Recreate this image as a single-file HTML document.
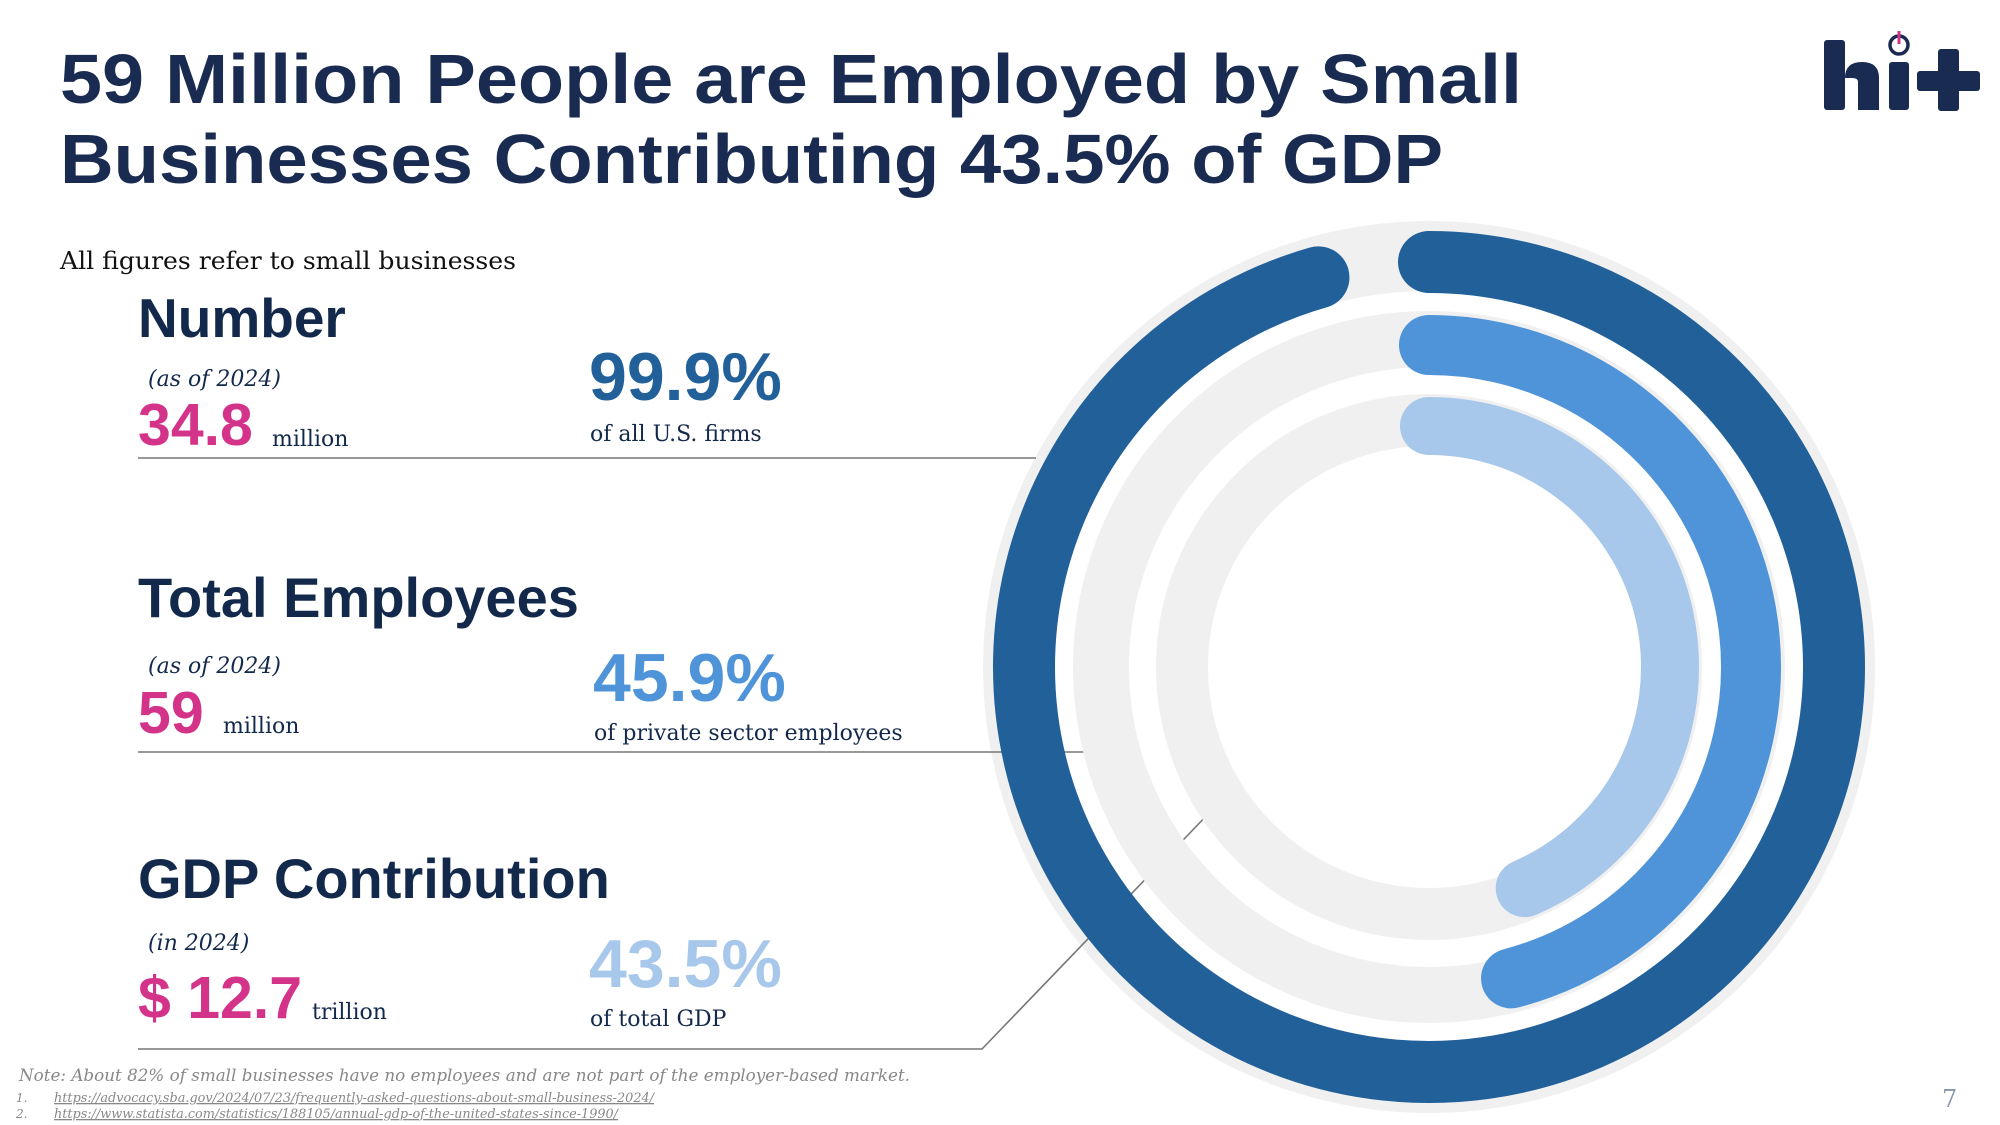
<!DOCTYPE html>
<html><head><meta charset="utf-8"><style>
html,body{margin:0;padding:0;background:#fff;}
svg{display:block;}
.h{font-family:"Liberation Sans",sans-serif;font-weight:bold;}
.s{font-family:"DejaVu Serif","Liberation Serif",serif;}
</style></head><body>
<svg id="page" width="2000" height="1125" viewBox="0 0 2000 1125" xmlns="http://www.w3.org/2000/svg">
<g class="h" fill="#1a2b52" font-size="70">
<text x="60" y="103" textLength="1462" lengthAdjust="spacingAndGlyphs">59 Million People are Employed by Small</text>
<text x="60" y="183" textLength="1383" lengthAdjust="spacingAndGlyphs">Businesses Contributing 43.5% of GDP</text>
</g>
<g transform="translate(-10,0)">
<rect x="1834" y="40" width="21" height="70" rx="3" fill="#1a2b52"/>
<path d="M1855 110 V78 Q1855 62 1872 62 Q1889 62 1889 78 V110 H1868 V82 Q1868 78 1862 78 H1855 Z" fill="#1a2b52"/>
<rect x="1899" y="62" width="20" height="48" rx="3" fill="#1a2b52"/>
<circle cx="1909" cy="45" r="9" fill="none" stroke="#1a2b52" stroke-width="3.5"/>
<rect x="1907.5" y="31" width="3" height="13" fill="#d4338a"/>
<rect x="1927" y="71" width="63" height="20" rx="3" fill="#1a2b52"/>
<rect x="1948" y="49" width="21" height="62" rx="3" fill="#1a2b52"/>
</g>
<text class="s" x="60" y="269" font-size="24" fill="#111" textLength="456" lengthAdjust="spacingAndGlyphs">All figures refer to small businesses</text>

<g id="connectors" stroke="#777" stroke-width="1.6" fill="none">
<line x1="138" y1="458" x2="1036" y2="458"/>
<line x1="138" y1="752" x2="1092" y2="752"/>
<polyline points="138,1049 982,1049 1211,811"/>
</g>
<g id="rings"></g>

<g>
<text class="h" x="138" y="337" font-size="55" fill="#13294b">Number</text>
<text class="s" x="148" y="386" font-size="22" font-style="italic" fill="#13294b">(as of 2024)</text>
<text class="h" x="138" y="445" font-size="59" fill="#d4338a">34.8</text>
<text class="s" x="272" y="446" font-size="22" fill="#13294b">million</text>
<text class="h" x="589" y="400" font-size="68" fill="#22609a">99.9%</text>
<text class="s" x="590" y="441" font-size="22" fill="#13294b">of all U.S. firms</text>
</g>
<g>
<text class="h" x="138" y="617" font-size="56" fill="#13294b">Total Employees</text>
<text class="s" x="148" y="673" font-size="22" font-style="italic" fill="#13294b">(as of 2024)</text>
<text class="h" x="138" y="733" font-size="59" fill="#d4338a">59</text>
<text class="s" x="223" y="733" font-size="22" fill="#13294b">million</text>
<text class="h" x="593" y="701" font-size="68" fill="#4f94d8">45.9%</text>
<text class="s" x="594" y="740" font-size="22" fill="#13294b">of private sector employees</text>
</g>
<g>
<text class="h" x="138" y="898" font-size="56" fill="#13294b">GDP Contribution</text>
<text class="s" x="148" y="950" font-size="22" font-style="italic" fill="#13294b">(in 2024)</text>
<text class="h" x="138" y="1018" font-size="59" fill="#d4338a">$ 12.7</text>
<text class="s" x="312" y="1019" font-size="22" fill="#13294b">trillion</text>
<text class="h" x="589" y="987" font-size="68" fill="#a8c8eb">43.5%</text>
<text class="s" x="590" y="1026" font-size="22" fill="#13294b">of total GDP</text>
</g>

<g class="s" font-style="italic" fill="#888">
<text x="19" y="1081" font-size="17" textLength="891" lengthAdjust="spacingAndGlyphs">Note: About 82% of small businesses have no employees and are not part of the employer-based market.</text>
<text x="16" y="1102" font-size="12">1.</text>
<text x="54" y="1102" font-size="13" text-decoration="underline" textLength="600" lengthAdjust="spacingAndGlyphs">https://advocacy.sba.gov/2024/07/23/frequently-asked-questions-about-small-business-2024/</text>
<text x="16" y="1118" font-size="12">2.</text>
<text x="54" y="1118" font-size="13" text-decoration="underline" textLength="564" lengthAdjust="spacingAndGlyphs">https://www.statista.com/statistics/188105/annual-gdp-of-the-united-states-since-1990/</text>
</g>
<text class="s" x="1942" y="1107" font-size="24" fill="#8a9ab0">7</text>
</svg>
<script>
const ringLabels = ["firms", "employees", "gdp"];
const ringValues = [99.9, 45.9, 43.5];
const ringColors = ["#22609a", "#4f94d8", "#a8c8eb"];
const ringRadii = [405, 322, 241];
const ringWidths = [62, 60, 58];
const trackRadii = [0, 328, 247];
const trackWidths = [0, 56, 52];
const CX = 1429, CY = 667, NS = "http://www.w3.org/2000/svg";
const g = document.getElementById('rings');
function angleFor(v){ return Math.min(v, 95.6) / 100 * 2 * Math.PI; }
function pt(r, a){ return [CX + r * Math.sin(a), CY - r * Math.cos(a)]; }
const bg = document.createElementNS(NS, 'circle');
bg.setAttribute('cx', CX); bg.setAttribute('cy', CY); bg.setAttribute('r', 446);
bg.setAttribute('fill', '#f0f0f0');


g.appendChild(bg);
const wh = document.createElementNS(NS, 'circle');
wh.setAttribute('cx', CX); wh.setAttribute('cy', CY); wh.setAttribute('r', 376);
wh.setAttribute('fill', '#fff');


g.appendChild(wh);
const conn = document.getElementById('connectors');
g.appendChild(conn);
ringValues.forEach((v, i) => {
  const r = ringRadii[i], w = ringWidths[i];
  if (i > 0) {
    const tr = document.createElementNS(NS, 'circle');
    tr.setAttribute('cx', CX); tr.setAttribute('cy', CY); tr.setAttribute('r', trackRadii[i]);
    tr.setAttribute('fill', 'none'); tr.setAttribute('stroke', '#f0f0f0');
    tr.setAttribute('stroke-width', trackWidths[i]);
    
    
    g.appendChild(tr);
  }
  const a = angleFor(v);
  const [x0, y0] = pt(r, 0), [x1, y1] = pt(r, a);
  const p = document.createElementNS(NS, 'path');
  p.setAttribute('d', `M${x0} ${y0} A${r} ${r} 0 ${a > Math.PI ? 1 : 0} 1 ${x1} ${y1}`);
  p.setAttribute('fill', 'none'); p.setAttribute('stroke', ringColors[i]);
  p.setAttribute('stroke-width', w); p.setAttribute('stroke-linecap', 'round');
  
  
  g.appendChild(p);
});
</script>
</body></html>
